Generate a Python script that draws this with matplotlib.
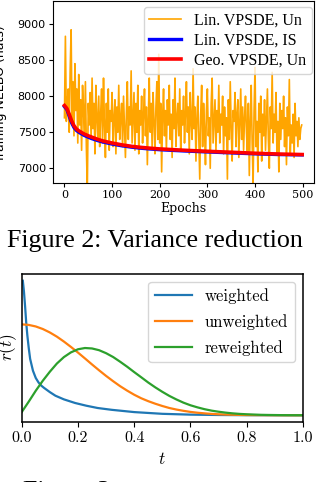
import matplotlib
matplotlib.use("Agg")
import matplotlib.pyplot as plt

# ---- top chart: training NELBO ----
epochs_un = list(range(0, 500, 2))
nelbo_lin_un = [
    7700, 8830, 7650, 7900, 8100, 7500, 8350, 8920, 7600, 8200,
    7450, 8450, 7800, 8100, 7350, 8300, 7600, 7950, 7250, 8150,
    7800, 7500, 8200, 7300, 6700, 7900, 7600, 8050, 7400, 8250,
    7550, 7900, 7200, 8150, 7700, 7400, 8000, 7300, 7750, 8100,
    7350, 8250, 7600, 7150, 7900, 7500, 8100, 7250, 7800, 7650,
    8050, 7300, 7700, 7950, 7200, 7850, 7500, 8150, 7400, 7700,
    7900, 7300, 8000, 7550, 7150, 7750, 8200, 7400, 7850, 7600,
    8350, 7350, 7700, 8050, 7250, 7900, 7500, 8150, 7200, 7800,
    7600, 8000, 7350, 7750, 8100, 7450, 7850, 7050, 7700, 8250,
    7500, 7900, 7300, 8050, 7650, 7200, 7850, 8200, 7400, 8580,
    7350, 7900, 6950, 7700, 8100, 7450, 7800, 7250, 7950, 7600,
    8150, 7400, 7750, 7150, 7950, 7550, 8250, 7300, 7700, 7900,
    7450, 8100, 7250, 7800, 7600, 8000, 7350, 7750, 8200, 7500,
    7850, 7200, 8050, 7650, 7400, 8380, 7550, 7850, 7100, 7700,
    8000, 7400, 6850, 7750, 8150, 7300, 7900, 7550, 7050, 7800,
    8100, 7450, 7700, 7000, 7900, 8250, 7350, 7650, 7950, 7250,
    7800, 7500, 8150, 7350, 7750, 7600, 8000, 7200, 7850, 7450,
    7700, 6850, 7950, 7400, 8200, 7550, 7100, 7800, 7650, 8050,
    7300, 7750, 7950, 7150, 7600, 8100, 7400, 7850, 7250, 7700,
    8000, 7500, 7200, 7900, 6900, 7650, 8150, 7350, 6800, 7800,
    8400, 7300, 7650, 6950, 7900, 7500, 8000, 7100, 7750, 7450,
    7950, 7250, 7700, 8100, 7400, 7000, 7850, 7550, 8330, 7350,
    7750, 7500, 8050, 7200, 7650, 6950, 7900, 7400, 7800, 7550,
    8000, 7300, 7700, 7050, 7850, 7450, 8230, 7200, 7600, 7350,
    7750, 7150, 7900, 7450, 7650, 7300, 7700, 7400, 7550, 7600,
]
epochs_smooth = [0, 5, 10, 15, 20, 25, 30, 40, 50, 60, 70, 80, 90, 100,
                 120, 140, 160, 180, 200, 250, 300, 350, 400, 450, 499]
nelbo_lin_is = [7855, 7815, 7720, 7630, 7565, 7525, 7500, 7460, 7430, 7405,
                7383, 7365, 7350, 7335, 7312, 7293, 7278, 7267, 7257, 7240,
                7226, 7213, 7200, 7190, 7185]
nelbo_geo_un = [7870, 7830, 7750, 7660, 7590, 7545, 7520, 7480, 7450, 7425,
                7400, 7380, 7365, 7350, 7325, 7305, 7290, 7278, 7268, 7250,
                7235, 7222, 7208, 7197, 7190]

# ---- bottom chart: r(t) ----
t_w = [0.004, 0.008, 0.012, 0.016, 0.02, 0.025, 0.03, 0.04, 0.05, 0.06, 0.07,
       0.08, 0.1, 0.12, 0.15, 0.19, 0.23, 0.27, 0.32, 0.4, 0.5, 0.6, 0.7,
       0.8, 0.9, 1.0]
r_weighted = [1.48, 1.36, 1.20, 1.02, 0.88, 0.74, 0.62, 0.49, 0.41, 0.36,
              0.325, 0.30, 0.255, 0.215, 0.175, 0.135, 0.105, 0.08, 0.06,
              0.035, 0.016, 0.007, 0.003, 0.001, 0.0005, 0.0002]
t = [i * 0.025 for i in range(41)]
r_unweighted = [1.0, 0.994, 0.977, 0.949, 0.911, 0.865, 0.811, 0.752, 0.690,
                0.625, 0.559, 0.495, 0.433, 0.375, 0.320, 0.271, 0.226, 0.187,
                0.155, 0.127, 0.102, 0.080, 0.063, 0.049, 0.037, 0.028, 0.021,
                0.015, 0.011, 0.008, 0.0058, 0.0041, 0.0028, 0.0019, 0.0013,
                0.0009, 0.0006, 0.0004, 0.0003, 0.0002, 0.0001]
r_reweighted = [0.035, 0.15, 0.27, 0.38, 0.479, 0.569, 0.640, 0.692, 0.726,
                0.740, 0.735, 0.716, 0.683, 0.641, 0.589, 0.534, 0.475, 0.418,
                0.360, 0.307, 0.258, 0.213, 0.174, 0.139, 0.110, 0.087, 0.067,
                0.051, 0.039, 0.029, 0.021, 0.015, 0.011, 0.008, 0.005, 0.0035,
                0.0025, 0.0015, 0.001, 0.0007, 0.0005]
t_ticks = [0.0, 0.2, 0.4, 0.6, 0.8, 1.0]
t_tick_labels = ["0.0", "0.2", "0.4", "0.6", "0.8", "1.0"]

plt.rcParams["mathtext.fontset"] = "cm"

fig = plt.figure(figsize=(3.16, 4.82), dpi=100)

# top
ax1 = fig.add_axes([0.167, 0.621, 0.827, 0.377])
ax1.plot(epochs_un, nelbo_lin_un, color="orange", lw=1.2, label="Lin. VPSDE, Un")
ax1.plot(epochs_smooth, nelbo_lin_is, color="blue", lw=2.4, label="Lin. VPSDE, IS")
ax1.plot(epochs_smooth, nelbo_geo_un, color="red", lw=2.6, label="Geo. VPSDE, Un")
ax1.set_xlim(-24.5, 524)
ax1.set_ylim(6800, 9320)
ax1.set_xticks([0, 100, 200, 300, 400, 500])
ax1.set_yticks([7000, 7500, 8000, 8500, 9000])
for lab in ax1.get_xticklabels():
    lab.set_fontfamily("DejaVu Serif")
    lab.set_fontsize(8)
for lab in ax1.get_yticklabels():
    lab.set_fontfamily("DejaVu Sans")
    lab.set_fontsize(8)
ax1.tick_params(length=3, pad=2)
ax1.set_xlabel("Epochs", family="DejaVu Serif", fontsize=9, labelpad=2)
fig.text(0.003, 0.805, "Training NELBO (nats)", rotation=90, ha="center",
         va="center", family="DejaVu Sans", fontsize=9)
ax1.legend(loc="upper right", bbox_to_anchor=(0.991, 0.969), borderaxespad=0,
           prop={"family": "Liberation Serif", "size": 11.5},
           labelspacing=0.25, handlelength=2.0, borderpad=0.35)

fig.text(0.022, 0.488, "Figure 2: Variance reduction", family="Liberation Serif",
         fontsize=18.7, va="baseline", ha="left")

# bottom
ax2 = fig.add_axes([0.0687, 0.1245, 0.890, 0.307])
ax2.plot(t_w, r_weighted, color="C0", lw=1.6, label="weighted")
ax2.plot(t, r_unweighted, color="C1", lw=1.6, label="unweighted")
ax2.plot(t, r_reweighted, color="C2", lw=1.6, label="reweighted")
ax2.set_xlim(0, 1)
ax2.set_yticks([])
ax2.set_xticks(t_ticks, t_tick_labels, family="cmr10", fontsize=11.5)
ax2.tick_params(length=3.5)
for s in ax2.spines.values():
    s.set_linewidth(1.1)
ax2.set_xlabel("$t$", fontsize=12.5, labelpad=3)
fig.text(0.025, 0.28, "$r(t)$", rotation=90, ha="center", va="center", fontsize=12.5)
ax2.legend(loc="upper right", bbox_to_anchor=(0.9716, 0.948), borderaxespad=0,
           prop={"family": "cmr10", "size": 12}, labelspacing=0.6,
           handlelength=2.2)

fig.text(0.073, -0.033, "Figure 3:", family="Liberation Serif", fontsize=18.7,
         va="baseline", ha="left")

fig.savefig("out.png", dpi=100)
